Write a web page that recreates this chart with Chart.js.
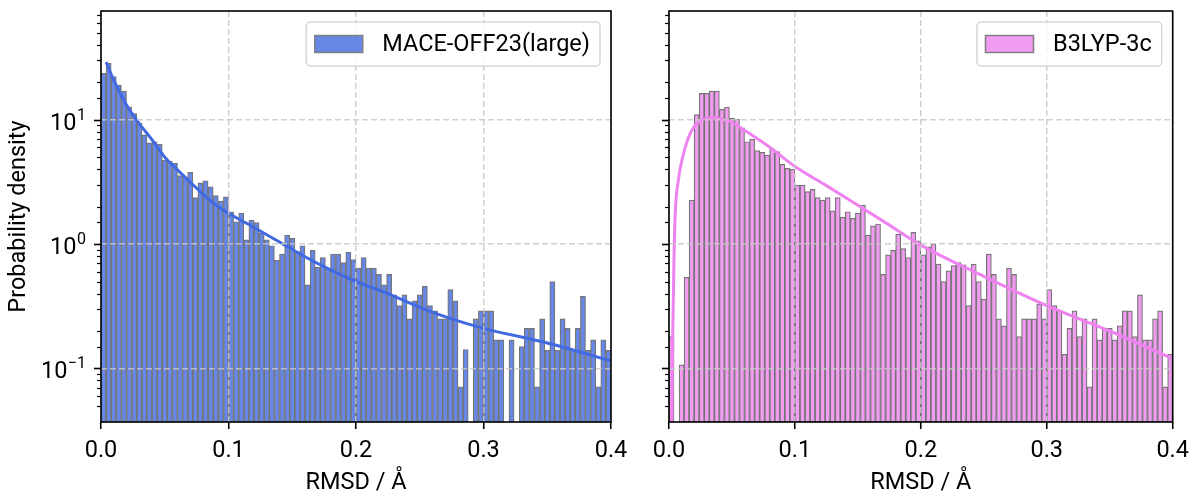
<!DOCTYPE html>
<html>
<head>
<meta charset="utf-8">
<title>RMSD histograms</title>
<script src="https://cdn.jsdelivr.net/npm/chart.js@4.4.1/dist/chart.umd.min.js"></script>
<style>
    body { margin: 0; background: #fff; width: 1197px; height: 491px; overflow: hidden; position: relative; }
    canvas { position: absolute; top: 0; }
    #maceChart { left: 0; }
    #b3lypChart { left: 640px; }
</style>
</head>
<body>
<canvas id="maceChart" width="640" height="491"></canvas>
<canvas id="b3lypChart" width="557" height="491"></canvas>
<script>
// histogram bins: 100 bins of 0.004 Å from 0 to 0.4
const binWidth = 0.004;

// probability density per bin (null = empty bin)
const maceDensity = [
    23.6, 28.4, 22.2, 19.0, 17.0, 12.7, 11.2, 9.35, 7.54, 6.53,
    6.65, 6.34, 4.74, 4.65, 4.46, 3.55, 3.46, 3.77, 2.36, 3.11,
    3.23, 2.89, 2.45, 2.22, 2.40, 1.82, 1.51, 1.77, 1.08, 1.56,
    1.49, 1.22, 1.08, 0.97, 0.74, 0.83, 1.18, 1.11, 0.87, 0.97,
    0.47, 0.89, 0.65, 0.78, 0.64, 0.83, 0.83, 0.71, 0.86, 0.75,
    0.64, 0.78, 0.64, 0.64, 0.57, 0.47, 0.57, 0.39, 0.32, 0.39,
    0.25, 0.35, 0.39, 0.46, 0.32, 0.29, 0.25, 0.25, 0.43, 0.35,
    0.071, 0.142, null, 0.25, 0.29, 0.29, 0.29, 0.17, 0.17, null,
    0.17, null, 0.15, 0.21, 0.21, 0.071, 0.25, 0.14, 0.50, 0.14,
    0.25, 0.21, 0.14, 0.21, 0.38, 0.14, 0.17, 0.071, 0.17, 0.14
];
const b3lypDensity = [
    0.18, null, 0.107, 0.54, 2.26, 11.0, 16.3, 16.3, 17.0, 17.0,
    12.1, 12.6, 10.3, 10.1, 8.62, 6.65, 6.95, 5.64, 5.46, 5.20,
    5.81, 5.53, 4.38, 4.06, 3.99, 2.98, 2.98, 2.64, 2.75, 2.36,
    2.26, 2.36, 1.85, 2.36, 1.64, 1.82, 1.61, 1.77, 2.06, 1.18,
    1.40, 1.45, 0.57, 0.82, 0.89, 1.20, 0.92, 0.78, 1.24, 1.06,
    0.82, 0.95, 1.00, 0.69, 0.50, 0.61, 0.67, 0.71, 0.68, 0.32,
    0.69, 0.50, 0.36, 0.83, 0.57, 0.25, 0.22, 0.64, 0.57, 0.18,
    0.25, 0.25, 0.25, 0.33, 0.25, 0.43, 0.32, 0.29, 0.13, 0.21,
    0.29, 0.18, 0.25, 0.071, 0.25, 0.17, 0.21, 0.21, 0.17, 0.22,
    0.29, 0.29, 0.18, 0.39, 0.17, 0.17, 0.25, 0.29, 0.071, 0.13
];

// fitted distributions
const maceFitX = [0.004, 0.01, 0.02, 0.03, 0.04, 0.05, 0.06, 0.07, 0.08, 0.09, 0.10,
    0.12, 0.14, 0.16, 0.18, 0.20, 0.225, 0.25, 0.275, 0.30, 0.35, 0.40];
const maceFitY = [29.0, 20.8, 13.1, 9.3, 6.9, 5.0, 3.95, 3.15, 2.52, 2.06, 1.77,
    1.36, 1.04, 0.79, 0.62, 0.50, 0.40, 0.31, 0.25, 0.21, 0.16, 0.115];
const b3lypFitX = [0.0022, 0.003, 0.004, 0.005, 0.0075, 0.01, 0.015, 0.02, 0.025, 0.03, 0.035,
    0.04, 0.05, 0.06, 0.08, 0.10, 0.125, 0.15, 0.175, 0.20, 0.25, 0.30, 0.35, 0.40];
const b3lypFitY = [0.03, 0.2, 0.8, 1.8, 3.3, 4.6, 7.0, 8.8, 9.8, 10.3, 10.4,
    10.2, 9.5, 8.2, 6.0, 4.2, 2.95, 2.05, 1.42, 0.98, 0.55, 0.32, 0.20, 0.12];

// axes
const xTicks = [0, 0.1, 0.2, 0.3, 0.4];
const yRange = [0.0371, 74.8];

const FONT = 'Roboto';
const FSIZE = 23.5;
Chart.defaults.font.family = FONT;

function isDecade(v) {
    const l = Math.log10(v);
    return Math.abs(l - Math.round(l)) < 1e-6;
}

// spines, y tick marks, y tick labels (10^n) and the boxed legend
const axesFrame = {
    id: 'axesFrame',
    afterDraw(chart, args, opts) {
        const { ctx, chartArea: a } = chart;
        const y = chart.scales.y;
        ctx.save();
        ctx.strokeStyle = '#000';
        ctx.fillStyle = '#000';

        y.ticks.forEach(t => {
            if (t.value <= y.min * 1.0001 || t.value >= y.max * 0.9999) return;
            const py = Math.round(y.getPixelForValue(t.value)) + 0.5;
            const major = isDecade(t.value);
            ctx.lineWidth = major ? 1.6 : 1.2;
            ctx.beginPath();
            ctx.moveTo(a.left - (major ? 7 : 4), py);
            ctx.lineTo(a.left, py);
            ctx.stroke();
            if (major && opts.yLabels) {
                const p = Math.round(Math.log10(t.value));
                const exp = p < 0 ? '\u2212' + (-p) : String(p);
                ctx.font = '16px ' + FONT;
                ctx.textAlign = 'right';
                ctx.textBaseline = 'alphabetic';
                const ew = ctx.measureText(exp).width;
                ctx.fillText(exp, 86, py - 1);
                ctx.font = FSIZE + 'px ' + FONT;
                ctx.fillText('10', 86 - ew - 0.5, py + 9);
            }
        });

        ctx.lineWidth = 1.6;
        ctx.strokeRect(a.left, a.top, a.right - a.left, a.bottom - a.top);

        // legend
        ctx.font = FSIZE + 'px ' + FONT;
        const tw = ctx.measureText(opts.label).width;
        const w = 76 + tw + 10, h = 44;
        const bx = a.right - 11 - w, by = a.top + 11;
        ctx.beginPath();
        ctx.roundRect(bx, by, w, h, 4);
        ctx.fillStyle = 'rgba(255,255,255,0.8)';
        ctx.fill();
        ctx.strokeStyle = 'rgba(204,204,204,0.8)';
        ctx.lineWidth = 1.5;
        ctx.stroke();
        ctx.fillStyle = opts.fill;
        ctx.fillRect(bx + 8.5, by + h / 2 - 8.5, 48, 17);
        ctx.strokeStyle = '#808080';
        ctx.lineWidth = 1.5;
        ctx.strokeRect(bx + 8.5, by + h / 2 - 8.5, 48, 17);
        ctx.fillStyle = '#000';
        ctx.textAlign = 'left';
        ctx.textBaseline = 'middle';
        ctx.fillText(opts.label, bx + 76, by + h / 2 + 1);
        ctx.restore();
    }
};

function makePanel(canvasId, cfg) {
    const bars = cfg.density.map((v, i) => ({ x: (i + 0.5) * binWidth, y: v }));
    const fit = cfg.fitX.map((x, i) => ({ x: x, y: cfg.fitY[i] }));
    const gridColor = 'rgba(200,200,200,0.85)';
    const labelFont = { family: FONT, size: FSIZE };

    return new Chart(document.getElementById(canvasId), {
        type: 'bar',
        data: {
            datasets: [
                {
                    type: 'line',
                    label: 'fit',
                    data: fit,
                    borderColor: cfg.lineColor,
                    borderWidth: 3,
                    pointRadius: 0,
                    cubicInterpolationMode: 'monotone',
                    order: 0
                },
                {
                    type: 'bar',
                    label: cfg.label,
                    data: bars,
                    backgroundColor: cfg.barColor,
                    borderColor: '#757575',
                    borderWidth: 1.2,
                    borderSkipped: false,
                    barPercentage: 1,
                    categoryPercentage: 1,
                    order: 1
                }
            ]
        },
        options: {
            responsive: false,
            animation: false,
            events: [],
            layout: { autoPadding: false, padding: { top: 11, right: cfg.padRight, left: 0, bottom: 0 } },
            plugins: {
                legend: { display: false },
                tooltip: { enabled: false },
                axesFrame: { label: cfg.label, fill: cfg.barColor, yLabels: cfg.yLabels }
            },
            scales: {
                x: {
                    type: 'linear',
                    min: xTicks[0],
                    max: xTicks[xTicks.length - 1],
                    offset: false,
                    afterBuildTicks: s => { s.ticks = xTicks.map(v => ({ value: v })); },
                    ticks: {
                        callback: v => v.toFixed(1),
                        font: labelFont,
                        color: '#000',
                        padding: 8,
                        maxRotation: 0,
                        autoSkip: false
                    },
                    grid: {
                        color: gridColor,
                        lineWidth: 1.5,
                        offset: false,
                        z: 1,
                        tickColor: '#000',
                        tickLength: 7,
                        tickWidth: 1.6
                    },
                    border: { display: false, dash: [6, 3] },
                    title: {
                        display: true,
                        text: 'RMSD / Å',
                        color: '#000',
                        font: { family: FONT, size: FSIZE, lineHeight: '16px' },
                        padding: 0
                    },
                    afterFit: s => { s.height = 69; }
                },
                y: {
                    type: 'logarithmic',
                    min: yRange[0],
                    max: yRange[1],
                    ticks: { display: false },
                    grid: {
                        color: c => (c.tick && isDecade(c.tick.value) ? gridColor : 'rgba(0,0,0,0)'),
                        lineWidth: 1.5,
                        z: 1,
                        drawTicks: false
                    },
                    border: { display: false, dash: [6, 3] },
                    title: {
                        display: cfg.yLabels,
                        text: 'Probability density',
                        color: '#000',
                        font: { family: FONT, size: FSIZE },
                        padding: { top: 5, bottom: 0 }
                    },
                    afterFit: s => { s.width = cfg.axisWidth; }
                }
            }
        },
        plugins: [axesFrame]
    });
}

makePanel('maceChart', {
    label: 'MACE-OFF23(large)',
    density: maceDensity,
    fitX: maceFitX,
    fitY: maceFitY,
    barColor: '#6787e7',
    lineColor: '#4169e1',
    yLabels: true,
    axisWidth: 101,
    padRight: 29
});

makePanel('b3lypChart', {
    label: 'B3LYP-3c',
    density: b3lypDensity,
    fitX: b3lypFitX,
    fitY: b3lypFitY,
    barColor: '#f19bf1',
    lineColor: '#ee82ee',
    yLabels: false,
    axisWidth: 29,
    padRight: 18
});
</script>
</body>
</html>
